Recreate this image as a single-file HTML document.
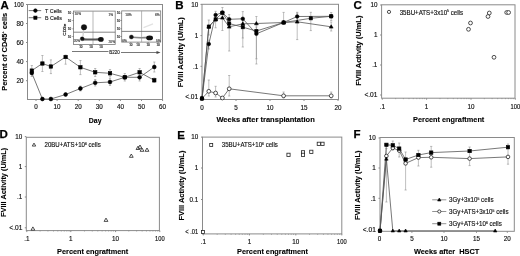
<!DOCTYPE html>
<html><head><meta charset="utf-8"><style>
html,body{margin:0;padding:0;background:#fff;}
svg{display:block;will-change:transform;}
text{font-family:"Liberation Sans", sans-serif;}
</style></head><body>
<svg width="520" height="256" viewBox="0 0 520 256">
<rect width="520" height="256" fill="#fff"/>
<text x="0.6" y="9.0" font-size="11.5" font-weight="bold" text-anchor="start" fill="#000" stroke="#000" stroke-width="0.25">A</text>
<rect x="27.5" y="4.5" width="135.0" height="95.0" fill="none" stroke="#8a8a8a" stroke-width="1.0"/>
<text x="23.6" y="6.768" font-size="6.3" font-weight="normal" text-anchor="end" fill="#111" textLength="9.6" lengthAdjust="spacingAndGlyphs" stroke="#111" stroke-width="0.15">100</text>
<line x1="26" y1="4.5" x2="27.5" y2="4.5" stroke="#8a8a8a" stroke-width="1.0" />
<text x="23.6" y="25.768" font-size="6.3" font-weight="normal" text-anchor="end" fill="#111" stroke="#111" stroke-width="0.15">80</text>
<line x1="26" y1="23.5" x2="27.5" y2="23.5" stroke="#8a8a8a" stroke-width="1.0" />
<text x="23.6" y="44.768" font-size="6.3" font-weight="normal" text-anchor="end" fill="#111" stroke="#111" stroke-width="0.15">60</text>
<line x1="26" y1="42.5" x2="27.5" y2="42.5" stroke="#8a8a8a" stroke-width="1.0" />
<text x="23.6" y="63.868" font-size="6.3" font-weight="normal" text-anchor="end" fill="#111" stroke="#111" stroke-width="0.15">40</text>
<line x1="26" y1="61.6" x2="27.5" y2="61.6" stroke="#8a8a8a" stroke-width="1.0" />
<text x="23.6" y="82.968" font-size="6.3" font-weight="normal" text-anchor="end" fill="#111" stroke="#111" stroke-width="0.15">20</text>
<line x1="26" y1="80.7" x2="27.5" y2="80.7" stroke="#8a8a8a" stroke-width="1.0" />
<text x="36.0" y="109.268" font-size="6.3" font-weight="normal" text-anchor="middle" fill="#111" stroke="#111" stroke-width="0.15">0</text>
<line x1="36.0" y1="99.5" x2="36.0" y2="101" stroke="#8a8a8a" stroke-width="1.0" />
<text x="57.099999999999994" y="109.268" font-size="6.3" font-weight="normal" text-anchor="middle" fill="#111" stroke="#111" stroke-width="0.15">10</text>
<line x1="57.099999999999994" y1="99.5" x2="57.099999999999994" y2="101" stroke="#8a8a8a" stroke-width="1.0" />
<text x="78.19999999999999" y="109.268" font-size="6.3" font-weight="normal" text-anchor="middle" fill="#111" stroke="#111" stroke-width="0.15">20</text>
<line x1="78.19999999999999" y1="99.5" x2="78.19999999999999" y2="101" stroke="#8a8a8a" stroke-width="1.0" />
<text x="99.3" y="109.268" font-size="6.3" font-weight="normal" text-anchor="middle" fill="#111" stroke="#111" stroke-width="0.15">30</text>
<line x1="99.3" y1="99.5" x2="99.3" y2="101" stroke="#8a8a8a" stroke-width="1.0" />
<text x="120.39999999999999" y="109.268" font-size="6.3" font-weight="normal" text-anchor="middle" fill="#111" stroke="#111" stroke-width="0.15">40</text>
<line x1="120.39999999999999" y1="99.5" x2="120.39999999999999" y2="101" stroke="#8a8a8a" stroke-width="1.0" />
<text x="141.5" y="109.268" font-size="6.3" font-weight="normal" text-anchor="middle" fill="#111" stroke="#111" stroke-width="0.15">50</text>
<line x1="141.5" y1="99.5" x2="141.5" y2="101" stroke="#8a8a8a" stroke-width="1.0" />
<text x="162.6" y="109.268" font-size="6.3" font-weight="normal" text-anchor="middle" fill="#111" stroke="#111" stroke-width="0.15">60</text>
<line x1="162.6" y1="99.5" x2="162.6" y2="101" stroke="#8a8a8a" stroke-width="1.0" />
<text x="7.4639999999999995" y="51.8" font-size="8.0" font-weight="bold" text-anchor="middle" fill="#000" textLength="78.0" lengthAdjust="spacingAndGlyphs" transform="rotate(-90 7.4639999999999995 51.8)" stroke="#000" stroke-width="0.12">Percent of CD45<tspan font-size="4" dy="-3.2">+</tspan><tspan dy="3.2"> cells</tspan></text>
<text x="95.15" y="123" font-size="8.0" font-weight="bold" text-anchor="middle" fill="#000" textLength="12.7" lengthAdjust="spacingAndGlyphs" stroke="#000" stroke-width="0.12">Day</text>
<line x1="28.7" y1="10.6" x2="41.2" y2="10.6" stroke="#555" stroke-width="0.8" />
<circle cx="35.4" cy="10.6" r="1.8" fill="#000" stroke="#000" stroke-width="0.6"/>
<line x1="28.7" y1="17.7" x2="41.2" y2="17.7" stroke="#555" stroke-width="0.8" />
<rect x="33.8" y="16.099999999999998" width="3.2" height="3.2" fill="#000" stroke="#000" stroke-width="0.6"/>
<text x="45.1" y="12.6" font-size="5.6" font-weight="normal" text-anchor="start" fill="#222" textLength="16.6" lengthAdjust="spacingAndGlyphs" stroke="#222" stroke-width="0.15">T Cells</text>
<text x="45.1" y="19.7" font-size="5.6" font-weight="normal" text-anchor="start" fill="#222" textLength="16.8" lengthAdjust="spacingAndGlyphs" stroke="#222" stroke-width="0.15">B Cells</text>
<line x1="31.8" y1="65.5" x2="31.8" y2="76.5" stroke="#8a8a8a" stroke-width="0.55" />
<line x1="30.7" y1="65.5" x2="32.9" y2="65.5" stroke="#8a8a8a" stroke-width="0.55" />
<line x1="30.7" y1="76.5" x2="32.9" y2="76.5" stroke="#8a8a8a" stroke-width="0.55" />
<line x1="42.4" y1="55.5" x2="42.4" y2="71.5" stroke="#8a8a8a" stroke-width="0.55" />
<line x1="41.3" y1="55.5" x2="43.5" y2="55.5" stroke="#8a8a8a" stroke-width="0.55" />
<line x1="41.3" y1="71.5" x2="43.5" y2="71.5" stroke="#8a8a8a" stroke-width="0.55" />
<line x1="50.9" y1="59.9" x2="50.9" y2="73.6" stroke="#8a8a8a" stroke-width="0.55" />
<line x1="49.8" y1="59.9" x2="52.0" y2="59.9" stroke="#8a8a8a" stroke-width="0.55" />
<line x1="49.8" y1="73.6" x2="52.0" y2="73.6" stroke="#8a8a8a" stroke-width="0.55" />
<line x1="65.6" y1="55.0" x2="65.6" y2="64.2" stroke="#8a8a8a" stroke-width="0.55" />
<line x1="64.5" y1="55.0" x2="66.69999999999999" y2="55.0" stroke="#8a8a8a" stroke-width="0.55" />
<line x1="64.5" y1="64.2" x2="66.69999999999999" y2="64.2" stroke="#8a8a8a" stroke-width="0.55" />
<line x1="80.4" y1="60.5" x2="80.4" y2="74.6" stroke="#8a8a8a" stroke-width="0.55" />
<line x1="79.30000000000001" y1="60.5" x2="81.5" y2="60.5" stroke="#8a8a8a" stroke-width="0.55" />
<line x1="79.30000000000001" y1="74.6" x2="81.5" y2="74.6" stroke="#8a8a8a" stroke-width="0.55" />
<line x1="95.2" y1="68.5" x2="95.2" y2="76.5" stroke="#8a8a8a" stroke-width="0.55" />
<line x1="94.10000000000001" y1="68.5" x2="96.3" y2="68.5" stroke="#8a8a8a" stroke-width="0.55" />
<line x1="94.10000000000001" y1="76.5" x2="96.3" y2="76.5" stroke="#8a8a8a" stroke-width="0.55" />
<line x1="110" y1="69.5" x2="110" y2="77" stroke="#8a8a8a" stroke-width="0.55" />
<line x1="108.9" y1="69.5" x2="111.1" y2="69.5" stroke="#8a8a8a" stroke-width="0.55" />
<line x1="108.9" y1="77" x2="111.1" y2="77" stroke="#8a8a8a" stroke-width="0.55" />
<line x1="124.8" y1="73.5" x2="124.8" y2="81" stroke="#8a8a8a" stroke-width="0.55" />
<line x1="123.7" y1="73.5" x2="125.89999999999999" y2="73.5" stroke="#8a8a8a" stroke-width="0.55" />
<line x1="123.7" y1="81" x2="125.89999999999999" y2="81" stroke="#8a8a8a" stroke-width="0.55" />
<line x1="139.6" y1="68.5" x2="139.6" y2="76.5" stroke="#8a8a8a" stroke-width="0.55" />
<line x1="138.5" y1="68.5" x2="140.7" y2="68.5" stroke="#8a8a8a" stroke-width="0.55" />
<line x1="138.5" y1="76.5" x2="140.7" y2="76.5" stroke="#8a8a8a" stroke-width="0.55" />
<line x1="154.3" y1="78" x2="154.3" y2="82.5" stroke="#8a8a8a" stroke-width="0.55" />
<line x1="153.20000000000002" y1="78" x2="155.4" y2="78" stroke="#8a8a8a" stroke-width="0.55" />
<line x1="153.20000000000002" y1="82.5" x2="155.4" y2="82.5" stroke="#8a8a8a" stroke-width="0.55" />
<line x1="95.2" y1="79.5" x2="95.2" y2="86" stroke="#8a8a8a" stroke-width="0.55" />
<line x1="94.10000000000001" y1="79.5" x2="96.3" y2="79.5" stroke="#8a8a8a" stroke-width="0.55" />
<line x1="94.10000000000001" y1="86" x2="96.3" y2="86" stroke="#8a8a8a" stroke-width="0.55" />
<line x1="110" y1="78.5" x2="110" y2="85.5" stroke="#8a8a8a" stroke-width="0.55" />
<line x1="108.9" y1="78.5" x2="111.1" y2="78.5" stroke="#8a8a8a" stroke-width="0.55" />
<line x1="108.9" y1="85.5" x2="111.1" y2="85.5" stroke="#8a8a8a" stroke-width="0.55" />
<line x1="139.6" y1="73.8" x2="139.6" y2="81" stroke="#8a8a8a" stroke-width="0.55" />
<line x1="138.5" y1="73.8" x2="140.7" y2="73.8" stroke="#8a8a8a" stroke-width="0.55" />
<line x1="138.5" y1="81" x2="140.7" y2="81" stroke="#8a8a8a" stroke-width="0.55" />
<line x1="154.3" y1="62" x2="154.3" y2="72" stroke="#8a8a8a" stroke-width="0.55" />
<line x1="153.20000000000002" y1="62" x2="155.4" y2="62" stroke="#8a8a8a" stroke-width="0.55" />
<line x1="153.20000000000002" y1="72" x2="155.4" y2="72" stroke="#8a8a8a" stroke-width="0.55" />
<line x1="80.4" y1="86" x2="80.4" y2="91" stroke="#8a8a8a" stroke-width="0.55" />
<line x1="79.30000000000001" y1="86" x2="81.5" y2="86" stroke="#8a8a8a" stroke-width="0.55" />
<line x1="79.30000000000001" y1="91" x2="81.5" y2="91" stroke="#8a8a8a" stroke-width="0.55" />
<polyline points="31.8,70.6 42.4,63.5 50.9,66.5 65.6,57 80.4,67.3 95.2,72.3 110,73.3 124.8,77.3 139.6,72.3 154.3,80.3" fill="none" stroke="#555" stroke-width="0.8"/>
<polyline points="31.8,73 42.4,99 50.9,99 65.6,94.5 80.4,88.5 95.2,82.8 110,82 124.8,77.3 139.6,77.3 154.3,67" fill="none" stroke="#555" stroke-width="0.8"/>
<rect x="30.1" y="68.89999999999999" width="3.4" height="3.4" fill="#000" stroke="#000" stroke-width="0.6"/>
<rect x="40.699999999999996" y="61.8" width="3.4" height="3.4" fill="#000" stroke="#000" stroke-width="0.6"/>
<rect x="49.199999999999996" y="64.8" width="3.4" height="3.4" fill="#000" stroke="#000" stroke-width="0.6"/>
<rect x="63.89999999999999" y="55.3" width="3.4" height="3.4" fill="#000" stroke="#000" stroke-width="0.6"/>
<rect x="78.7" y="65.6" width="3.4" height="3.4" fill="#000" stroke="#000" stroke-width="0.6"/>
<rect x="93.5" y="70.6" width="3.4" height="3.4" fill="#000" stroke="#000" stroke-width="0.6"/>
<rect x="108.3" y="71.6" width="3.4" height="3.4" fill="#000" stroke="#000" stroke-width="0.6"/>
<rect x="123.1" y="75.6" width="3.4" height="3.4" fill="#000" stroke="#000" stroke-width="0.6"/>
<rect x="137.9" y="70.6" width="3.4" height="3.4" fill="#000" stroke="#000" stroke-width="0.6"/>
<rect x="152.60000000000002" y="78.6" width="3.4" height="3.4" fill="#000" stroke="#000" stroke-width="0.6"/>
<circle cx="31.8" cy="73" r="1.9" fill="#000" stroke="#000" stroke-width="0.6"/>
<circle cx="42.4" cy="99" r="1.9" fill="#000" stroke="#000" stroke-width="0.6"/>
<circle cx="50.9" cy="99" r="1.9" fill="#000" stroke="#000" stroke-width="0.6"/>
<circle cx="65.6" cy="94.5" r="1.9" fill="#000" stroke="#000" stroke-width="0.6"/>
<circle cx="80.4" cy="88.5" r="1.9" fill="#000" stroke="#000" stroke-width="0.6"/>
<circle cx="95.2" cy="82.8" r="1.9" fill="#000" stroke="#000" stroke-width="0.6"/>
<circle cx="110" cy="82" r="1.9" fill="#000" stroke="#000" stroke-width="0.6"/>
<circle cx="124.8" cy="77.3" r="1.9" fill="#000" stroke="#000" stroke-width="0.6"/>
<circle cx="139.6" cy="77.3" r="1.9" fill="#000" stroke="#000" stroke-width="0.6"/>
<circle cx="154.3" cy="67" r="1.9" fill="#000" stroke="#000" stroke-width="0.6"/>
<rect x="73.5" y="11.1" width="41.7" height="33.3" fill="none" stroke="#777" stroke-width="0.8"/>
<line x1="93" y1="11.1" x2="93" y2="44.4" stroke="#999" stroke-width="0.7" />
<line x1="73.5" y1="32.2" x2="115.2" y2="32.2" stroke="#666" stroke-width="0.8" />
<text x="77.8" y="15.2" font-size="3.2" font-weight="normal" text-anchor="middle" fill="#444" stroke="#444" stroke-width="0.15">10%</text>
<text x="110.8" y="15.7" font-size="3.2" font-weight="normal" text-anchor="middle" fill="#444" stroke="#444" stroke-width="0.15">1%</text>
<text x="77" y="42.1" font-size="3.2" font-weight="normal" text-anchor="middle" fill="#444" stroke="#444" stroke-width="0.15">20%</text>
<text x="111.8" y="42.7" font-size="3.2" font-weight="normal" text-anchor="middle" fill="#444" stroke="#444" stroke-width="0.15">20%</text>
<text x="69.5" y="14.3" font-size="3.0" font-weight="normal" text-anchor="middle" fill="#222" stroke="#222" stroke-width="0.15">10</text>
<line x1="72.3" y1="13.3" x2="73.5" y2="13.3" stroke="#555" stroke-width="0.6" />
<text x="69.5" y="21.5" font-size="3.0" font-weight="normal" text-anchor="middle" fill="#222" stroke="#222" stroke-width="0.15">10</text>
<line x1="72.3" y1="20.5" x2="73.5" y2="20.5" stroke="#555" stroke-width="0.6" />
<text x="69.5" y="29.8" font-size="3.0" font-weight="normal" text-anchor="middle" fill="#222" stroke="#222" stroke-width="0.15">10</text>
<line x1="72.3" y1="28.8" x2="73.5" y2="28.8" stroke="#555" stroke-width="0.6" />
<text x="69.5" y="37.5" font-size="3.0" font-weight="normal" text-anchor="middle" fill="#222" stroke="#222" stroke-width="0.15">10</text>
<line x1="72.3" y1="36.5" x2="73.5" y2="36.5" stroke="#555" stroke-width="0.6" />
<text x="80.8" y="47.8" font-size="3.0" font-weight="normal" text-anchor="middle" fill="#222" stroke="#222" stroke-width="0.15">10</text>
<line x1="80.8" y1="44.4" x2="80.8" y2="45.4" stroke="#555" stroke-width="0.6" />
<text x="91" y="47.8" font-size="3.0" font-weight="normal" text-anchor="middle" fill="#222" stroke="#222" stroke-width="0.15">10</text>
<line x1="91" y1="44.4" x2="91" y2="45.4" stroke="#555" stroke-width="0.6" />
<text x="101" y="47.8" font-size="3.0" font-weight="normal" text-anchor="middle" fill="#222" stroke="#222" stroke-width="0.15">10</text>
<line x1="101" y1="44.4" x2="101" y2="45.4" stroke="#555" stroke-width="0.6" />
<rect x="121.7" y="10.9" width="38.999999999999986" height="31.200000000000003" fill="none" stroke="#777" stroke-width="0.8"/>
<line x1="141.6" y1="10.9" x2="141.6" y2="42.1" stroke="#999" stroke-width="0.7" />
<line x1="121.7" y1="31.4" x2="160.7" y2="31.4" stroke="#666" stroke-width="0.8" />
<text x="128.5" y="15.6" font-size="3.2" font-weight="normal" text-anchor="middle" fill="#444" stroke="#444" stroke-width="0.15">10%</text>
<text x="157.4" y="15.5" font-size="3.2" font-weight="normal" text-anchor="middle" fill="#444" stroke="#444" stroke-width="0.15">6%</text>
<text x="124.6" y="41.7" font-size="3.2" font-weight="normal" text-anchor="middle" fill="#444" stroke="#444" stroke-width="0.15">6%</text>
<text x="158.2" y="41.7" font-size="3.2" font-weight="normal" text-anchor="middle" fill="#444" stroke="#444" stroke-width="0.15">5%</text>
<text x="118.5" y="14.3" font-size="3.0" font-weight="normal" text-anchor="middle" fill="#222" stroke="#222" stroke-width="0.15">10</text>
<line x1="120.5" y1="13.3" x2="121.7" y2="13.3" stroke="#555" stroke-width="0.6" />
<text x="118.5" y="21.5" font-size="3.0" font-weight="normal" text-anchor="middle" fill="#222" stroke="#222" stroke-width="0.15">10</text>
<line x1="120.5" y1="20.5" x2="121.7" y2="20.5" stroke="#555" stroke-width="0.6" />
<text x="118.5" y="29.8" font-size="3.0" font-weight="normal" text-anchor="middle" fill="#222" stroke="#222" stroke-width="0.15">10</text>
<line x1="120.5" y1="28.8" x2="121.7" y2="28.8" stroke="#555" stroke-width="0.6" />
<text x="118.5" y="37.5" font-size="3.0" font-weight="normal" text-anchor="middle" fill="#222" stroke="#222" stroke-width="0.15">10</text>
<line x1="120.5" y1="36.5" x2="121.7" y2="36.5" stroke="#555" stroke-width="0.6" />
<text x="130.8" y="45.5" font-size="3.0" font-weight="normal" text-anchor="middle" fill="#222" stroke="#222" stroke-width="0.15">10</text>
<line x1="130.8" y1="42.1" x2="130.8" y2="43.1" stroke="#555" stroke-width="0.6" />
<text x="137.9" y="45.5" font-size="3.0" font-weight="normal" text-anchor="middle" fill="#222" stroke="#222" stroke-width="0.15">10</text>
<line x1="137.9" y1="42.1" x2="137.9" y2="43.1" stroke="#555" stroke-width="0.6" />
<text x="148.1" y="45.5" font-size="3.0" font-weight="normal" text-anchor="middle" fill="#222" stroke="#222" stroke-width="0.15">10</text>
<line x1="148.1" y1="42.1" x2="148.1" y2="43.1" stroke="#555" stroke-width="0.6" />
<text x="158.1" y="45.5" font-size="3.0" font-weight="normal" text-anchor="middle" fill="#222" stroke="#222" stroke-width="0.15">10</text>
<line x1="158.1" y1="42.1" x2="158.1" y2="43.1" stroke="#555" stroke-width="0.6" />
<line x1="83.5" y1="29" x2="83" y2="36.5" stroke="#ccc" stroke-width="1.2" />
<path d="M83,38.2 C88,38.6 94,38.6 99,38.3 L99,40.6 C94,40.5 88,40.6 83,40.4 Z" fill="#555"/>
<path d="M132,36.6 C137,36.9 142,37.0 147,36.8 L147,38.6 C142,38.5 137,38.4 132,38.0 Z" fill="#888"/>
<circle cx="84" cy="27.2" r="2.8" fill="#111" stroke="#111" stroke-width="0.3"/>
<circle cx="82.2" cy="38.8" r="2.0" fill="#111" stroke="#111" stroke-width="0.3"/>
<ellipse cx="100.9" cy="39.4" rx="2.8" ry="2.4" fill="#111"/>
<circle cx="131.4" cy="37" r="2.1" fill="#111" stroke="#111" stroke-width="0.3"/>
<ellipse cx="149.6" cy="37.9" rx="3.4" ry="2.4" fill="#111"/>
<line x1="143.5" y1="27.6" x2="153" y2="23.9" stroke="#e2e2e2" stroke-width="1.2" />
<text x="66.0" y="29.7" font-size="4.2" font-weight="normal" text-anchor="middle" fill="#222" textLength="12.0" lengthAdjust="spacingAndGlyphs" transform="rotate(-90 66.0 29.7)" stroke="#222" stroke-width="0.2">CD3e</text>
<line x1="72" y1="51.5" x2="108.5" y2="51.5" stroke="#555" stroke-width="0.8" />
<line x1="121" y1="52.5" x2="158" y2="52.5" stroke="#555" stroke-width="0.8" />
<polygon points="160.5,52.5 156.5,51 156.5,54" fill="#444"/>
<text x="114.5" y="54.2" font-size="5.0" font-weight="normal" text-anchor="middle" fill="#222" textLength="10.5" lengthAdjust="spacingAndGlyphs" stroke="#222" stroke-width="0.15">B220</text>
<text x="175.3" y="9.2" font-size="11.5" font-weight="bold" text-anchor="start" fill="#000" stroke="#000" stroke-width="0.25">B</text>
<rect x="202" y="4.3" width="136.5" height="95.2" fill="none" stroke="#8a8a8a" stroke-width="1.0"/>
<text x="198.2" y="6.668" font-size="6.3" font-weight="normal" text-anchor="end" fill="#111" stroke="#111" stroke-width="0.15">10</text>
<line x1="200.5" y1="4.4" x2="202" y2="4.4" stroke="#8a8a8a" stroke-width="1.0" />
<text x="198.2" y="37.868" font-size="6.3" font-weight="normal" text-anchor="end" fill="#111" stroke="#111" stroke-width="0.15">1</text>
<line x1="200.5" y1="35.6" x2="202" y2="35.6" stroke="#8a8a8a" stroke-width="1.0" />
<text x="198.2" y="68.568" font-size="6.3" font-weight="normal" text-anchor="end" fill="#111" stroke="#111" stroke-width="0.15">.1</text>
<line x1="200.5" y1="66.3" x2="202" y2="66.3" stroke="#8a8a8a" stroke-width="1.0" />
<text x="198.2" y="98.968" font-size="6.3" font-weight="normal" text-anchor="end" fill="#111" textLength="13.0" lengthAdjust="spacingAndGlyphs" stroke="#111" stroke-width="0.15">&lt;.01</text>
<line x1="200.5" y1="96.7" x2="202" y2="96.7" stroke="#8a8a8a" stroke-width="1.0" />
<text x="202.0" y="109.668" font-size="6.3" font-weight="normal" text-anchor="middle" fill="#111" stroke="#111" stroke-width="0.15">0</text>
<line x1="202.0" y1="99.5" x2="202.0" y2="101" stroke="#8a8a8a" stroke-width="1.0" />
<text x="236.0" y="109.668" font-size="6.3" font-weight="normal" text-anchor="middle" fill="#111" stroke="#111" stroke-width="0.15">5</text>
<line x1="236.0" y1="99.5" x2="236.0" y2="101" stroke="#8a8a8a" stroke-width="1.0" />
<text x="270.0" y="109.668" font-size="6.3" font-weight="normal" text-anchor="middle" fill="#111" stroke="#111" stroke-width="0.15">10</text>
<line x1="270.0" y1="99.5" x2="270.0" y2="101" stroke="#8a8a8a" stroke-width="1.0" />
<text x="304.0" y="109.668" font-size="6.3" font-weight="normal" text-anchor="middle" fill="#111" stroke="#111" stroke-width="0.15">15</text>
<line x1="304.0" y1="99.5" x2="304.0" y2="101" stroke="#8a8a8a" stroke-width="1.0" />
<text x="338.0" y="109.668" font-size="6.3" font-weight="normal" text-anchor="middle" fill="#111" stroke="#111" stroke-width="0.15">20</text>
<line x1="338.0" y1="99.5" x2="338.0" y2="101" stroke="#8a8a8a" stroke-width="1.0" />
<text x="183.16400000000002" y="52.2" font-size="8.0" font-weight="bold" text-anchor="middle" fill="#000" textLength="70.0" lengthAdjust="spacingAndGlyphs" transform="rotate(-90 183.16400000000002 52.2)" stroke="#000" stroke-width="0.12">FVIII Activity (U/mL)</text>
<text x="265.6" y="122.3" font-size="8.0" font-weight="bold" text-anchor="middle" fill="#000" textLength="98.4" lengthAdjust="spacingAndGlyphs" stroke="#000" stroke-width="0.12">Weeks after transplantation</text>
<line x1="208.8" y1="20" x2="208.8" y2="35" stroke="#8a8a8a" stroke-width="0.55" />
<line x1="207.70000000000002" y1="20" x2="209.9" y2="20" stroke="#8a8a8a" stroke-width="0.55" />
<line x1="207.70000000000002" y1="35" x2="209.9" y2="35" stroke="#8a8a8a" stroke-width="0.55" />
<line x1="208.8" y1="40" x2="208.8" y2="49" stroke="#8a8a8a" stroke-width="0.55" />
<line x1="207.70000000000002" y1="40" x2="209.9" y2="40" stroke="#8a8a8a" stroke-width="0.55" />
<line x1="207.70000000000002" y1="49" x2="209.9" y2="49" stroke="#8a8a8a" stroke-width="0.55" />
<line x1="215.6" y1="11.3" x2="215.6" y2="15" stroke="#8a8a8a" stroke-width="0.55" />
<line x1="214.5" y1="11.3" x2="216.7" y2="11.3" stroke="#8a8a8a" stroke-width="0.55" />
<line x1="214.5" y1="15" x2="216.7" y2="15" stroke="#8a8a8a" stroke-width="0.55" />
<line x1="215.6" y1="21.5" x2="215.6" y2="27.8" stroke="#8a8a8a" stroke-width="0.55" />
<line x1="214.5" y1="21.5" x2="216.7" y2="21.5" stroke="#8a8a8a" stroke-width="0.55" />
<line x1="214.5" y1="27.8" x2="216.7" y2="27.8" stroke="#8a8a8a" stroke-width="0.55" />
<line x1="222.4" y1="7.5" x2="222.4" y2="30.5" stroke="#8a8a8a" stroke-width="0.55" />
<line x1="221.3" y1="7.5" x2="223.5" y2="7.5" stroke="#8a8a8a" stroke-width="0.55" />
<line x1="221.3" y1="30.5" x2="223.5" y2="30.5" stroke="#8a8a8a" stroke-width="0.55" />
<line x1="229.2" y1="14.6" x2="229.2" y2="51" stroke="#8a8a8a" stroke-width="0.55" />
<line x1="228.1" y1="14.6" x2="230.29999999999998" y2="14.6" stroke="#8a8a8a" stroke-width="0.55" />
<line x1="228.1" y1="51" x2="230.29999999999998" y2="51" stroke="#8a8a8a" stroke-width="0.55" />
<line x1="242.8" y1="11.6" x2="242.8" y2="47" stroke="#8a8a8a" stroke-width="0.55" />
<line x1="241.70000000000002" y1="11.6" x2="243.9" y2="11.6" stroke="#8a8a8a" stroke-width="0.55" />
<line x1="241.70000000000002" y1="47" x2="243.9" y2="47" stroke="#8a8a8a" stroke-width="0.55" />
<line x1="256.4" y1="16.5" x2="256.4" y2="64" stroke="#8a8a8a" stroke-width="0.55" />
<line x1="255.29999999999998" y1="16.5" x2="257.5" y2="16.5" stroke="#8a8a8a" stroke-width="0.55" />
<line x1="255.29999999999998" y1="64" x2="257.5" y2="64" stroke="#8a8a8a" stroke-width="0.55" />
<line x1="256.4" y1="27" x2="256.4" y2="58.8" stroke="#8a8a8a" stroke-width="0.55" />
<line x1="255.29999999999998" y1="27" x2="257.5" y2="27" stroke="#8a8a8a" stroke-width="0.55" />
<line x1="255.29999999999998" y1="58.8" x2="257.5" y2="58.8" stroke="#8a8a8a" stroke-width="0.55" />
<line x1="283.6" y1="12.4" x2="283.6" y2="23" stroke="#8a8a8a" stroke-width="0.55" />
<line x1="282.5" y1="12.4" x2="284.70000000000005" y2="12.4" stroke="#8a8a8a" stroke-width="0.55" />
<line x1="282.5" y1="23" x2="284.70000000000005" y2="23" stroke="#8a8a8a" stroke-width="0.55" />
<line x1="297.2" y1="12.3" x2="297.2" y2="39.6" stroke="#8a8a8a" stroke-width="0.55" />
<line x1="296.09999999999997" y1="12.3" x2="298.3" y2="12.3" stroke="#8a8a8a" stroke-width="0.55" />
<line x1="296.09999999999997" y1="39.6" x2="298.3" y2="39.6" stroke="#8a8a8a" stroke-width="0.55" />
<line x1="297.2" y1="13" x2="297.2" y2="22" stroke="#8a8a8a" stroke-width="0.55" />
<line x1="296.09999999999997" y1="13" x2="298.3" y2="13" stroke="#8a8a8a" stroke-width="0.55" />
<line x1="296.09999999999997" y1="22" x2="298.3" y2="22" stroke="#8a8a8a" stroke-width="0.55" />
<line x1="310.8" y1="12.3" x2="310.8" y2="30.6" stroke="#8a8a8a" stroke-width="0.55" />
<line x1="309.7" y1="12.3" x2="311.90000000000003" y2="12.3" stroke="#8a8a8a" stroke-width="0.55" />
<line x1="309.7" y1="30.6" x2="311.90000000000003" y2="30.6" stroke="#8a8a8a" stroke-width="0.55" />
<line x1="242.8" y1="20" x2="242.8" y2="38" stroke="#8a8a8a" stroke-width="0.55" />
<line x1="241.70000000000002" y1="20" x2="243.9" y2="20" stroke="#8a8a8a" stroke-width="0.55" />
<line x1="241.70000000000002" y1="38" x2="243.9" y2="38" stroke="#8a8a8a" stroke-width="0.55" />
<line x1="331.2" y1="12.5" x2="331.2" y2="20.5" stroke="#8a8a8a" stroke-width="0.55" />
<line x1="330.09999999999997" y1="12.5" x2="332.3" y2="12.5" stroke="#8a8a8a" stroke-width="0.55" />
<line x1="330.09999999999997" y1="20.5" x2="332.3" y2="20.5" stroke="#8a8a8a" stroke-width="0.55" />
<line x1="331.2" y1="22" x2="331.2" y2="31" stroke="#8a8a8a" stroke-width="0.55" />
<line x1="330.09999999999997" y1="22" x2="332.3" y2="22" stroke="#8a8a8a" stroke-width="0.55" />
<line x1="330.09999999999997" y1="31" x2="332.3" y2="31" stroke="#8a8a8a" stroke-width="0.55" />
<line x1="208.8" y1="80" x2="208.8" y2="96" stroke="#8a8a8a" stroke-width="0.55" />
<line x1="207.70000000000002" y1="80" x2="209.9" y2="80" stroke="#8a8a8a" stroke-width="0.55" />
<line x1="207.70000000000002" y1="96" x2="209.9" y2="96" stroke="#8a8a8a" stroke-width="0.55" />
<line x1="215.6" y1="86.3" x2="215.6" y2="97" stroke="#8a8a8a" stroke-width="0.55" />
<line x1="214.5" y1="86.3" x2="216.7" y2="86.3" stroke="#8a8a8a" stroke-width="0.55" />
<line x1="214.5" y1="97" x2="216.7" y2="97" stroke="#8a8a8a" stroke-width="0.55" />
<line x1="229.2" y1="75.5" x2="229.2" y2="96" stroke="#8a8a8a" stroke-width="0.55" />
<line x1="228.1" y1="75.5" x2="230.29999999999998" y2="75.5" stroke="#8a8a8a" stroke-width="0.55" />
<line x1="228.1" y1="96" x2="230.29999999999998" y2="96" stroke="#8a8a8a" stroke-width="0.55" />
<line x1="283.6" y1="92" x2="283.6" y2="98" stroke="#8a8a8a" stroke-width="0.55" />
<line x1="282.5" y1="92" x2="284.70000000000005" y2="92" stroke="#8a8a8a" stroke-width="0.55" />
<line x1="282.5" y1="98" x2="284.70000000000005" y2="98" stroke="#8a8a8a" stroke-width="0.55" />
<line x1="331.2" y1="92" x2="331.2" y2="98" stroke="#8a8a8a" stroke-width="0.55" />
<line x1="330.09999999999997" y1="92" x2="332.3" y2="92" stroke="#8a8a8a" stroke-width="0.55" />
<line x1="330.09999999999997" y1="98" x2="332.3" y2="98" stroke="#8a8a8a" stroke-width="0.55" />
<polyline points="202.0,98.5 208.8,26.6 215.6,19.4 222.4,12.8 229.2,23.5 242.8,27.2 256.4,31 283.6,22.5 310.8,18.3 331.2,16.3" fill="none" stroke="#555" stroke-width="0.8"/>
<polyline points="202.0,98.5 208.8,44 215.6,15 222.4,12.5 229.2,19.3 242.8,18.8 256.4,33.8 283.6,22.5 297.2,16.5 331.2,16.3" fill="none" stroke="#555" stroke-width="0.8"/>
<polyline points="202.0,98.5 208.8,26.8 215.6,19.3 222.4,17.8 229.2,26.8 242.8,23.8 256.4,23.5 283.6,22.5 297.2,21.8 331.2,26.8" fill="none" stroke="#555" stroke-width="0.8"/>
<polyline points="202.0,98.5 208.8,91.3 215.6,93 222.4,98 229.2,88.8 283.6,95.8 331.2,95.8" fill="none" stroke="#555" stroke-width="0.8"/>
<polygon points="202.0,96.5 203.9,99.8 200.1,99.8" fill="#000" stroke="#000" stroke-width="0.6"/>
<polygon points="208.8,24.8 210.70000000000002,28.1 206.9,28.1" fill="#000" stroke="#000" stroke-width="0.6"/>
<polygon points="215.6,17.3 217.5,20.6 213.7,20.6" fill="#000" stroke="#000" stroke-width="0.6"/>
<polygon points="222.4,15.8 224.3,19.1 220.5,19.1" fill="#000" stroke="#000" stroke-width="0.6"/>
<polygon points="229.2,24.8 231.1,28.1 227.29999999999998,28.1" fill="#000" stroke="#000" stroke-width="0.6"/>
<polygon points="242.8,21.8 244.70000000000002,25.1 240.9,25.1" fill="#000" stroke="#000" stroke-width="0.6"/>
<polygon points="256.4,21.5 258.29999999999995,24.8 254.49999999999997,24.8" fill="#000" stroke="#000" stroke-width="0.6"/>
<polygon points="283.6,20.5 285.5,23.8 281.70000000000005,23.8" fill="#000" stroke="#000" stroke-width="0.6"/>
<polygon points="297.2,19.8 299.09999999999997,23.1 295.3,23.1" fill="#000" stroke="#000" stroke-width="0.6"/>
<polygon points="331.2,24.8 333.09999999999997,28.1 329.3,28.1" fill="#000" stroke="#000" stroke-width="0.6"/>
<rect x="200.4" y="96.9" width="3.2" height="3.2" fill="#000" stroke="#000" stroke-width="0.6"/>
<rect x="207.20000000000002" y="25.0" width="3.2" height="3.2" fill="#000" stroke="#000" stroke-width="0.6"/>
<rect x="214.0" y="17.799999999999997" width="3.2" height="3.2" fill="#000" stroke="#000" stroke-width="0.6"/>
<rect x="220.8" y="11.200000000000001" width="3.2" height="3.2" fill="#000" stroke="#000" stroke-width="0.6"/>
<rect x="227.6" y="21.9" width="3.2" height="3.2" fill="#000" stroke="#000" stroke-width="0.6"/>
<rect x="241.20000000000002" y="25.599999999999998" width="3.2" height="3.2" fill="#000" stroke="#000" stroke-width="0.6"/>
<rect x="254.79999999999998" y="29.4" width="3.2" height="3.2" fill="#000" stroke="#000" stroke-width="0.6"/>
<rect x="282.0" y="20.9" width="3.2" height="3.2" fill="#000" stroke="#000" stroke-width="0.6"/>
<rect x="309.2" y="16.7" width="3.2" height="3.2" fill="#000" stroke="#000" stroke-width="0.6"/>
<rect x="329.59999999999997" y="14.700000000000001" width="3.2" height="3.2" fill="#000" stroke="#000" stroke-width="0.6"/>
<circle cx="202.0" cy="98.5" r="1.8" fill="#000" stroke="#000" stroke-width="0.6"/>
<circle cx="208.8" cy="44" r="1.8" fill="#000" stroke="#000" stroke-width="0.6"/>
<circle cx="215.6" cy="15" r="1.8" fill="#000" stroke="#000" stroke-width="0.6"/>
<circle cx="222.4" cy="12.5" r="1.8" fill="#000" stroke="#000" stroke-width="0.6"/>
<circle cx="229.2" cy="19.3" r="1.8" fill="#000" stroke="#000" stroke-width="0.6"/>
<circle cx="242.8" cy="18.8" r="1.8" fill="#000" stroke="#000" stroke-width="0.6"/>
<circle cx="256.4" cy="33.8" r="1.8" fill="#000" stroke="#000" stroke-width="0.6"/>
<circle cx="283.6" cy="22.5" r="1.8" fill="#000" stroke="#000" stroke-width="0.6"/>
<circle cx="297.2" cy="16.5" r="1.8" fill="#000" stroke="#000" stroke-width="0.6"/>
<circle cx="331.2" cy="16.3" r="1.8" fill="#000" stroke="#000" stroke-width="0.6"/>
<circle cx="208.8" cy="91.3" r="1.9" fill="#fff" stroke="#222" stroke-width="0.8"/>
<circle cx="215.6" cy="93" r="1.9" fill="#fff" stroke="#222" stroke-width="0.8"/>
<circle cx="222.4" cy="98" r="1.9" fill="#fff" stroke="#222" stroke-width="0.8"/>
<circle cx="229.2" cy="88.8" r="1.9" fill="#fff" stroke="#222" stroke-width="0.8"/>
<circle cx="283.6" cy="95.8" r="1.9" fill="#fff" stroke="#222" stroke-width="0.8"/>
<circle cx="331.2" cy="95.8" r="1.9" fill="#fff" stroke="#222" stroke-width="0.8"/>
<text x="353.5" y="9.2" font-size="11.5" font-weight="bold" text-anchor="start" fill="#000" stroke="#000" stroke-width="0.25">C</text>
<rect x="381.6" y="4.8" width="133.39999999999998" height="93.4" fill="none" stroke="#8a8a8a" stroke-width="1.0"/>
<text x="377.4" y="7.268" font-size="6.3" font-weight="normal" text-anchor="end" fill="#111" stroke="#111" stroke-width="0.15">10</text>
<line x1="380.1" y1="5" x2="381.6" y2="5" stroke="#8a8a8a" stroke-width="1.0" />
<text x="377.4" y="37.268" font-size="6.3" font-weight="normal" text-anchor="end" fill="#111" stroke="#111" stroke-width="0.15">1</text>
<line x1="380.1" y1="35" x2="381.6" y2="35" stroke="#8a8a8a" stroke-width="1.0" />
<text x="377.4" y="67.268" font-size="6.3" font-weight="normal" text-anchor="end" fill="#111" stroke="#111" stroke-width="0.15">.1</text>
<line x1="380.1" y1="65" x2="381.6" y2="65" stroke="#8a8a8a" stroke-width="1.0" />
<text x="377.4" y="97.268" font-size="6.3" font-weight="normal" text-anchor="end" fill="#111" textLength="13.0" lengthAdjust="spacingAndGlyphs" stroke="#111" stroke-width="0.15">&lt;.01</text>
<line x1="380.1" y1="95" x2="381.6" y2="95" stroke="#8a8a8a" stroke-width="1.0" />
<text x="382.3" y="108.868" font-size="6.3" font-weight="normal" text-anchor="middle" fill="#111" stroke="#111" stroke-width="0.15">.1</text>
<line x1="382.3" y1="98.2" x2="382.3" y2="99.7" stroke="#8a8a8a" stroke-width="1.0" />
<text x="426.6" y="108.868" font-size="6.3" font-weight="normal" text-anchor="middle" fill="#111" stroke="#111" stroke-width="0.15">1</text>
<line x1="426.6" y1="98.2" x2="426.6" y2="99.7" stroke="#8a8a8a" stroke-width="1.0" />
<text x="471" y="108.868" font-size="6.3" font-weight="normal" text-anchor="middle" fill="#111" stroke="#111" stroke-width="0.15">10</text>
<line x1="471" y1="98.2" x2="471" y2="99.7" stroke="#8a8a8a" stroke-width="1.0" />
<text x="515.3" y="108.868" font-size="6.3" font-weight="normal" text-anchor="middle" fill="#111" textLength="9.6" lengthAdjust="spacingAndGlyphs" stroke="#111" stroke-width="0.15">100</text>
<line x1="515.3" y1="98.2" x2="515.3" y2="99.7" stroke="#8a8a8a" stroke-width="1.0" />
<text x="361.364" y="50.65" font-size="8.0" font-weight="bold" text-anchor="middle" fill="#000" textLength="70.1" lengthAdjust="spacingAndGlyphs" transform="rotate(-90 361.364 50.65)" stroke="#000" stroke-width="0.12">FVIII Activity (U/mL)</text>
<line x1="395.64" y1="98.2" x2="395.64" y2="99.2" stroke="#777" stroke-width="0.5" />
<line x1="403.45" y1="98.2" x2="403.45" y2="99.2" stroke="#777" stroke-width="0.5" />
<line x1="408.99" y1="98.2" x2="408.99" y2="99.2" stroke="#777" stroke-width="0.5" />
<line x1="413.29" y1="98.2" x2="413.29" y2="99.2" stroke="#777" stroke-width="0.5" />
<line x1="416.8" y1="98.2" x2="416.8" y2="99.2" stroke="#777" stroke-width="0.5" />
<line x1="419.76" y1="98.2" x2="419.76" y2="99.2" stroke="#777" stroke-width="0.5" />
<line x1="422.33" y1="98.2" x2="422.33" y2="99.2" stroke="#777" stroke-width="0.5" />
<line x1="424.6" y1="98.2" x2="424.6" y2="99.2" stroke="#777" stroke-width="0.5" />
<line x1="439.97" y1="98.2" x2="439.97" y2="99.2" stroke="#777" stroke-width="0.5" />
<line x1="447.78" y1="98.2" x2="447.78" y2="99.2" stroke="#777" stroke-width="0.5" />
<line x1="453.32" y1="98.2" x2="453.32" y2="99.2" stroke="#777" stroke-width="0.5" />
<line x1="457.62" y1="98.2" x2="457.62" y2="99.2" stroke="#777" stroke-width="0.5" />
<line x1="461.13" y1="98.2" x2="461.13" y2="99.2" stroke="#777" stroke-width="0.5" />
<line x1="464.09" y1="98.2" x2="464.09" y2="99.2" stroke="#777" stroke-width="0.5" />
<line x1="466.66" y1="98.2" x2="466.66" y2="99.2" stroke="#777" stroke-width="0.5" />
<line x1="468.93" y1="98.2" x2="468.93" y2="99.2" stroke="#777" stroke-width="0.5" />
<line x1="484.3" y1="98.2" x2="484.3" y2="99.2" stroke="#777" stroke-width="0.5" />
<line x1="492.11" y1="98.2" x2="492.11" y2="99.2" stroke="#777" stroke-width="0.5" />
<line x1="497.65" y1="98.2" x2="497.65" y2="99.2" stroke="#777" stroke-width="0.5" />
<line x1="501.95" y1="98.2" x2="501.95" y2="99.2" stroke="#777" stroke-width="0.5" />
<line x1="505.46" y1="98.2" x2="505.46" y2="99.2" stroke="#777" stroke-width="0.5" />
<line x1="508.42" y1="98.2" x2="508.42" y2="99.2" stroke="#777" stroke-width="0.5" />
<line x1="510.99" y1="98.2" x2="510.99" y2="99.2" stroke="#777" stroke-width="0.5" />
<line x1="513.26" y1="98.2" x2="513.26" y2="99.2" stroke="#777" stroke-width="0.5" />
<text x="448.70000000000005" y="121.9" font-size="8.0" font-weight="bold" text-anchor="middle" fill="#000" textLength="71.2" lengthAdjust="spacingAndGlyphs" stroke="#000" stroke-width="0.12">Percent engraftment</text>
<circle cx="389" cy="11.9" r="1.6" fill="#fff" stroke="#222" stroke-width="0.8"/>
<text x="399.7" y="14.5" font-size="6.5" font-weight="normal" text-anchor="start" fill="#111" textLength="63.3" lengthAdjust="spacingAndGlyphs" stroke="#111" stroke-width="0.15">35BU+ATS+3x10<tspan font-size="3.6" dy="-2.2">5</tspan><tspan dy="2.2"> cells</tspan></text>
<circle cx="470.5" cy="23" r="1.9" fill="#fff" stroke="#222" stroke-width="0.8"/>
<circle cx="468.5" cy="29.3" r="1.9" fill="#fff" stroke="#222" stroke-width="0.8"/>
<circle cx="489.3" cy="13" r="1.9" fill="#fff" stroke="#222" stroke-width="0.8"/>
<circle cx="488" cy="16.5" r="1.9" fill="#fff" stroke="#222" stroke-width="0.8"/>
<circle cx="506.7" cy="12.5" r="1.9" fill="#fff" stroke="#222" stroke-width="0.8"/>
<circle cx="508.6" cy="12.5" r="1.9" fill="#fff" stroke="#222" stroke-width="0.8"/>
<circle cx="494" cy="57.3" r="1.9" fill="#fff" stroke="#222" stroke-width="0.8"/>
<text x="-0.6" y="138.3" font-size="11.5" font-weight="bold" text-anchor="start" fill="#000" stroke="#000" stroke-width="0.25">D</text>
<rect x="26.3" y="137.3" width="133.1" height="93.29999999999998" fill="none" stroke="#8a8a8a" stroke-width="1.0"/>
<text x="22.3" y="138.868" font-size="6.3" font-weight="normal" text-anchor="end" fill="#111" stroke="#111" stroke-width="0.15">10</text>
<line x1="24.8" y1="136.6" x2="26.3" y2="136.6" stroke="#8a8a8a" stroke-width="1.0" />
<text x="22.3" y="168.868" font-size="6.3" font-weight="normal" text-anchor="end" fill="#111" stroke="#111" stroke-width="0.15">1</text>
<line x1="24.8" y1="166.6" x2="26.3" y2="166.6" stroke="#8a8a8a" stroke-width="1.0" />
<text x="22.3" y="199.268" font-size="6.3" font-weight="normal" text-anchor="end" fill="#111" stroke="#111" stroke-width="0.15">.1</text>
<line x1="24.8" y1="197.0" x2="26.3" y2="197.0" stroke="#8a8a8a" stroke-width="1.0" />
<text x="22.3" y="230.068" font-size="6.3" font-weight="normal" text-anchor="end" fill="#111" textLength="13.0" lengthAdjust="spacingAndGlyphs" stroke="#111" stroke-width="0.15">&lt;.01</text>
<line x1="24.8" y1="227.8" x2="26.3" y2="227.8" stroke="#8a8a8a" stroke-width="1.0" />
<text x="26.8" y="240.568" font-size="6.3" font-weight="normal" text-anchor="middle" fill="#111" stroke="#111" stroke-width="0.15">.1</text>
<line x1="26.8" y1="230.6" x2="26.8" y2="232.1" stroke="#8a8a8a" stroke-width="1.0" />
<text x="70.8" y="240.568" font-size="6.3" font-weight="normal" text-anchor="middle" fill="#111" stroke="#111" stroke-width="0.15">1</text>
<line x1="70.8" y1="230.6" x2="70.8" y2="232.1" stroke="#8a8a8a" stroke-width="1.0" />
<text x="115.6" y="240.568" font-size="6.3" font-weight="normal" text-anchor="middle" fill="#111" stroke="#111" stroke-width="0.15">10</text>
<line x1="115.6" y1="230.6" x2="115.6" y2="232.1" stroke="#8a8a8a" stroke-width="1.0" />
<text x="159.8" y="240.568" font-size="6.3" font-weight="normal" text-anchor="middle" fill="#111" textLength="9.6" lengthAdjust="spacingAndGlyphs" stroke="#111" stroke-width="0.15">100</text>
<line x1="159.8" y1="230.6" x2="159.8" y2="232.1" stroke="#8a8a8a" stroke-width="1.0" />
<text x="6.164" y="182.35000000000002" font-size="8.0" font-weight="bold" text-anchor="middle" fill="#000" textLength="69.1" lengthAdjust="spacingAndGlyphs" transform="rotate(-90 6.164 182.35000000000002)" stroke="#000" stroke-width="0.12">FVIII Activity (U/mL)</text>
<line x1="40.14" y1="230.6" x2="40.14" y2="231.6" stroke="#777" stroke-width="0.5" />
<line x1="47.95" y1="230.6" x2="47.95" y2="231.6" stroke="#777" stroke-width="0.5" />
<line x1="53.49" y1="230.6" x2="53.49" y2="231.6" stroke="#777" stroke-width="0.5" />
<line x1="57.79" y1="230.6" x2="57.79" y2="231.6" stroke="#777" stroke-width="0.5" />
<line x1="61.3" y1="230.6" x2="61.3" y2="231.6" stroke="#777" stroke-width="0.5" />
<line x1="64.26" y1="230.6" x2="64.26" y2="231.6" stroke="#777" stroke-width="0.5" />
<line x1="66.83" y1="230.6" x2="66.83" y2="231.6" stroke="#777" stroke-width="0.5" />
<line x1="69.1" y1="230.6" x2="69.1" y2="231.6" stroke="#777" stroke-width="0.5" />
<line x1="84.47" y1="230.6" x2="84.47" y2="231.6" stroke="#777" stroke-width="0.5" />
<line x1="92.28" y1="230.6" x2="92.28" y2="231.6" stroke="#777" stroke-width="0.5" />
<line x1="97.82" y1="230.6" x2="97.82" y2="231.6" stroke="#777" stroke-width="0.5" />
<line x1="102.12" y1="230.6" x2="102.12" y2="231.6" stroke="#777" stroke-width="0.5" />
<line x1="105.63" y1="230.6" x2="105.63" y2="231.6" stroke="#777" stroke-width="0.5" />
<line x1="108.59" y1="230.6" x2="108.59" y2="231.6" stroke="#777" stroke-width="0.5" />
<line x1="111.16" y1="230.6" x2="111.16" y2="231.6" stroke="#777" stroke-width="0.5" />
<line x1="113.43" y1="230.6" x2="113.43" y2="231.6" stroke="#777" stroke-width="0.5" />
<line x1="128.8" y1="230.6" x2="128.8" y2="231.6" stroke="#777" stroke-width="0.5" />
<line x1="136.61" y1="230.6" x2="136.61" y2="231.6" stroke="#777" stroke-width="0.5" />
<line x1="142.15" y1="230.6" x2="142.15" y2="231.6" stroke="#777" stroke-width="0.5" />
<line x1="146.45" y1="230.6" x2="146.45" y2="231.6" stroke="#777" stroke-width="0.5" />
<line x1="149.96" y1="230.6" x2="149.96" y2="231.6" stroke="#777" stroke-width="0.5" />
<line x1="152.92" y1="230.6" x2="152.92" y2="231.6" stroke="#777" stroke-width="0.5" />
<line x1="155.49" y1="230.6" x2="155.49" y2="231.6" stroke="#777" stroke-width="0.5" />
<line x1="157.76" y1="230.6" x2="157.76" y2="231.6" stroke="#777" stroke-width="0.5" />
<text x="92.64999999999999" y="254.1" font-size="8.0" font-weight="bold" text-anchor="middle" fill="#000" textLength="71.1" lengthAdjust="spacingAndGlyphs" stroke="#000" stroke-width="0.12">Percent engraftment</text>
<polygon points="34,143.1 35.71,146.07 32.29,146.07" fill="#fff" stroke="#222" stroke-width="0.8"/>
<text x="44.5" y="147.3" font-size="6.5" font-weight="normal" text-anchor="start" fill="#111" textLength="56.2" lengthAdjust="spacingAndGlyphs" stroke="#111" stroke-width="0.15">20BU+ATS+10<tspan font-size="3.6" dy="-2.2">6</tspan><tspan dy="2.2"> cells</tspan></text>
<polygon points="32.9,226.9 34.8,230.20000000000002 31.0,230.20000000000002" fill="#fff" stroke="#222" stroke-width="0.8"/>
<polygon points="106,218.1 107.9,221.4 104.1,221.4" fill="#fff" stroke="#222" stroke-width="0.8"/>
<polygon points="131.3,154.0 133.20000000000002,157.3 129.4,157.3" fill="#fff" stroke="#222" stroke-width="0.8"/>
<polygon points="138,146.2 139.9,149.5 136.1,149.5" fill="#fff" stroke="#222" stroke-width="0.8"/>
<polygon points="140,145.0 141.9,148.3 138.1,148.3" fill="#fff" stroke="#222" stroke-width="0.8"/>
<polygon points="142,148.0 143.9,151.3 140.1,151.3" fill="#fff" stroke="#222" stroke-width="0.8"/>
<polygon points="147,148.0 148.9,151.3 145.1,151.3" fill="#fff" stroke="#222" stroke-width="0.8"/>
<text x="177.3" y="138.5" font-size="11.5" font-weight="bold" text-anchor="start" fill="#000" stroke="#000" stroke-width="0.25">E</text>
<rect x="202.5" y="137.1" width="139.3" height="96.80000000000001" fill="none" stroke="#8a8a8a" stroke-width="1.0"/>
<text x="198.2" y="139.368" font-size="6.3" font-weight="normal" text-anchor="end" fill="#111" stroke="#111" stroke-width="0.15">10</text>
<line x1="201" y1="137.1" x2="202.5" y2="137.1" stroke="#8a8a8a" stroke-width="1.0" />
<text x="198.2" y="170.268" font-size="6.3" font-weight="normal" text-anchor="end" fill="#111" stroke="#111" stroke-width="0.15">1</text>
<line x1="201" y1="168" x2="202.5" y2="168" stroke="#8a8a8a" stroke-width="1.0" />
<text x="198.2" y="201.768" font-size="6.3" font-weight="normal" text-anchor="end" fill="#111" stroke="#111" stroke-width="0.15">0.1</text>
<line x1="201" y1="199.5" x2="202.5" y2="199.5" stroke="#8a8a8a" stroke-width="1.0" />
<text x="198.2" y="233.568" font-size="6.3" font-weight="normal" text-anchor="end" fill="#111" textLength="13.0" lengthAdjust="spacingAndGlyphs" stroke="#111" stroke-width="0.15">&lt; .01</text>
<line x1="201" y1="231.3" x2="202.5" y2="231.3" stroke="#8a8a8a" stroke-width="1.0" />
<text x="203.3" y="243.868" font-size="6.3" font-weight="normal" text-anchor="middle" fill="#111" stroke="#111" stroke-width="0.15">.1</text>
<line x1="203.3" y1="233.9" x2="203.3" y2="235.4" stroke="#8a8a8a" stroke-width="1.0" />
<text x="249.4" y="243.868" font-size="6.3" font-weight="normal" text-anchor="middle" fill="#111" stroke="#111" stroke-width="0.15">1</text>
<line x1="249.4" y1="233.9" x2="249.4" y2="235.4" stroke="#8a8a8a" stroke-width="1.0" />
<text x="295.8" y="243.868" font-size="6.3" font-weight="normal" text-anchor="middle" fill="#111" stroke="#111" stroke-width="0.15">10</text>
<line x1="295.8" y1="233.9" x2="295.8" y2="235.4" stroke="#8a8a8a" stroke-width="1.0" />
<text x="341.8" y="243.868" font-size="6.3" font-weight="normal" text-anchor="middle" fill="#111" textLength="9.6" lengthAdjust="spacingAndGlyphs" stroke="#111" stroke-width="0.15">100</text>
<line x1="341.8" y1="233.9" x2="341.8" y2="235.4" stroke="#8a8a8a" stroke-width="1.0" />
<text x="184.364" y="185.6" font-size="8.0" font-weight="bold" text-anchor="middle" fill="#000" textLength="70.0" lengthAdjust="spacingAndGlyphs" transform="rotate(-90 184.364 185.6)" stroke="#000" stroke-width="0.12">FVIII Activity (U/mL)</text>
<line x1="217.2" y1="233.9" x2="217.2" y2="234.9" stroke="#777" stroke-width="0.5" />
<line x1="225.33" y1="233.9" x2="225.33" y2="234.9" stroke="#777" stroke-width="0.5" />
<line x1="231.1" y1="233.9" x2="231.1" y2="234.9" stroke="#777" stroke-width="0.5" />
<line x1="235.57" y1="233.9" x2="235.57" y2="234.9" stroke="#777" stroke-width="0.5" />
<line x1="239.23" y1="233.9" x2="239.23" y2="234.9" stroke="#777" stroke-width="0.5" />
<line x1="242.32" y1="233.9" x2="242.32" y2="234.9" stroke="#777" stroke-width="0.5" />
<line x1="245.0" y1="233.9" x2="245.0" y2="234.9" stroke="#777" stroke-width="0.5" />
<line x1="247.36" y1="233.9" x2="247.36" y2="234.9" stroke="#777" stroke-width="0.5" />
<line x1="263.37" y1="233.9" x2="263.37" y2="234.9" stroke="#777" stroke-width="0.5" />
<line x1="271.5" y1="233.9" x2="271.5" y2="234.9" stroke="#777" stroke-width="0.5" />
<line x1="277.27" y1="233.9" x2="277.27" y2="234.9" stroke="#777" stroke-width="0.5" />
<line x1="281.74" y1="233.9" x2="281.74" y2="234.9" stroke="#777" stroke-width="0.5" />
<line x1="285.4" y1="233.9" x2="285.4" y2="234.9" stroke="#777" stroke-width="0.5" />
<line x1="288.49" y1="233.9" x2="288.49" y2="234.9" stroke="#777" stroke-width="0.5" />
<line x1="291.17" y1="233.9" x2="291.17" y2="234.9" stroke="#777" stroke-width="0.5" />
<line x1="293.53" y1="233.9" x2="293.53" y2="234.9" stroke="#777" stroke-width="0.5" />
<line x1="309.54" y1="233.9" x2="309.54" y2="234.9" stroke="#777" stroke-width="0.5" />
<line x1="317.67" y1="233.9" x2="317.67" y2="234.9" stroke="#777" stroke-width="0.5" />
<line x1="323.44" y1="233.9" x2="323.44" y2="234.9" stroke="#777" stroke-width="0.5" />
<line x1="327.91" y1="233.9" x2="327.91" y2="234.9" stroke="#777" stroke-width="0.5" />
<line x1="331.57" y1="233.9" x2="331.57" y2="234.9" stroke="#777" stroke-width="0.5" />
<line x1="334.66" y1="233.9" x2="334.66" y2="234.9" stroke="#777" stroke-width="0.5" />
<line x1="337.34" y1="233.9" x2="337.34" y2="234.9" stroke="#777" stroke-width="0.5" />
<line x1="339.7" y1="233.9" x2="339.7" y2="234.9" stroke="#777" stroke-width="0.5" />
<text x="272.55" y="254.1" font-size="8.0" font-weight="bold" text-anchor="middle" fill="#000" textLength="70.9" lengthAdjust="spacingAndGlyphs" stroke="#000" stroke-width="0.12">Percent engraftment</text>
<rect x="209.7" y="143.5" width="3.0" height="3.0" fill="#fff" stroke="#222" stroke-width="0.8"/>
<text x="221.8" y="147.1" font-size="6.5" font-weight="normal" text-anchor="start" fill="#111" textLength="56" lengthAdjust="spacingAndGlyphs" stroke="#111" stroke-width="0.15">35BU+ATS+10<tspan font-size="3.6" dy="-2.2">6</tspan><tspan dy="2.2"> cells</tspan></text>
<rect x="201.4" y="230.4" width="3.2" height="3.2" fill="#fff" stroke="#222" stroke-width="0.8"/>
<rect x="286.9" y="153.20000000000002" width="3.2" height="3.2" fill="#fff" stroke="#222" stroke-width="0.8"/>
<rect x="301.4" y="150.70000000000002" width="3.2" height="3.2" fill="#fff" stroke="#222" stroke-width="0.8"/>
<rect x="301.4" y="153.20000000000002" width="3.2" height="3.2" fill="#fff" stroke="#222" stroke-width="0.8"/>
<rect x="309.7" y="150.20000000000002" width="3.2" height="3.2" fill="#fff" stroke="#222" stroke-width="0.8"/>
<rect x="317.2" y="142.20000000000002" width="3.2" height="3.2" fill="#fff" stroke="#222" stroke-width="0.8"/>
<rect x="320.9" y="142.20000000000002" width="3.2" height="3.2" fill="#fff" stroke="#222" stroke-width="0.8"/>
<text x="353.6" y="138.3" font-size="11.5" font-weight="bold" text-anchor="start" fill="#000" stroke="#000" stroke-width="0.25">F</text>
<rect x="380" y="137.5" width="134.29999999999995" height="93.80000000000001" fill="none" stroke="#8a8a8a" stroke-width="1.0"/>
<text x="375.8" y="140.268" font-size="6.3" font-weight="normal" text-anchor="end" fill="#111" stroke="#111" stroke-width="0.15">10</text>
<line x1="378.5" y1="138" x2="380" y2="138" stroke="#8a8a8a" stroke-width="1.0" />
<text x="375.8" y="170.268" font-size="6.3" font-weight="normal" text-anchor="end" fill="#111" stroke="#111" stroke-width="0.15">1</text>
<line x1="378.5" y1="168" x2="380" y2="168" stroke="#8a8a8a" stroke-width="1.0" />
<text x="375.8" y="200.568" font-size="6.3" font-weight="normal" text-anchor="end" fill="#111" stroke="#111" stroke-width="0.15">.1</text>
<line x1="378.5" y1="198.3" x2="380" y2="198.3" stroke="#8a8a8a" stroke-width="1.0" />
<text x="375.8" y="231.768" font-size="6.3" font-weight="normal" text-anchor="end" fill="#111" textLength="13.0" lengthAdjust="spacingAndGlyphs" stroke="#111" stroke-width="0.15">&lt;.01</text>
<line x1="378.5" y1="229.5" x2="380" y2="229.5" stroke="#8a8a8a" stroke-width="1.0" />
<text x="379.6" y="240.868" font-size="6.3" font-weight="normal" text-anchor="middle" fill="#111" stroke="#111" stroke-width="0.15">0</text>
<line x1="379.6" y1="231.3" x2="379.6" y2="232.8" stroke="#8a8a8a" stroke-width="1.0" />
<text x="411.9" y="240.868" font-size="6.3" font-weight="normal" text-anchor="middle" fill="#111" stroke="#111" stroke-width="0.15">5</text>
<line x1="411.9" y1="231.3" x2="411.9" y2="232.8" stroke="#8a8a8a" stroke-width="1.0" />
<text x="444" y="240.868" font-size="6.3" font-weight="normal" text-anchor="middle" fill="#111" stroke="#111" stroke-width="0.15">10</text>
<line x1="444" y1="231.3" x2="444" y2="232.8" stroke="#8a8a8a" stroke-width="1.0" />
<text x="476.5" y="240.868" font-size="6.3" font-weight="normal" text-anchor="middle" fill="#111" stroke="#111" stroke-width="0.15">15</text>
<line x1="476.5" y1="231.3" x2="476.5" y2="232.8" stroke="#8a8a8a" stroke-width="1.0" />
<text x="507.3" y="240.868" font-size="6.3" font-weight="normal" text-anchor="middle" fill="#111" stroke="#111" stroke-width="0.15">20</text>
<line x1="507.3" y1="231.3" x2="507.3" y2="232.8" stroke="#8a8a8a" stroke-width="1.0" />
<text x="360.464" y="185.35" font-size="8.0" font-weight="bold" text-anchor="middle" fill="#000" textLength="69.5" lengthAdjust="spacingAndGlyphs" transform="rotate(-90 360.464 185.35)" stroke="#000" stroke-width="0.12">FVIII Activity (U/mL)</text>
<text x="446.6" y="254.1" font-size="8.0" font-weight="bold" text-anchor="middle" fill="#000" textLength="65.4" lengthAdjust="spacingAndGlyphs" stroke="#000" stroke-width="0.12">Weeks after&#160; HSCT</text>
<line x1="386.4" y1="148.5" x2="386.4" y2="202" stroke="#8a8a8a" stroke-width="0.55" />
<line x1="385.29999999999995" y1="148.5" x2="387.5" y2="148.5" stroke="#8a8a8a" stroke-width="0.55" />
<line x1="385.29999999999995" y1="202" x2="387.5" y2="202" stroke="#8a8a8a" stroke-width="0.55" />
<line x1="392.8" y1="141" x2="392.8" y2="150" stroke="#8a8a8a" stroke-width="0.55" />
<line x1="391.7" y1="141" x2="393.90000000000003" y2="141" stroke="#8a8a8a" stroke-width="0.55" />
<line x1="391.7" y1="150" x2="393.90000000000003" y2="150" stroke="#8a8a8a" stroke-width="0.55" />
<line x1="399.2" y1="143" x2="399.2" y2="157" stroke="#8a8a8a" stroke-width="0.55" />
<line x1="398.09999999999997" y1="143" x2="400.3" y2="143" stroke="#8a8a8a" stroke-width="0.55" />
<line x1="398.09999999999997" y1="157" x2="400.3" y2="157" stroke="#8a8a8a" stroke-width="0.55" />
<line x1="405.6" y1="152" x2="405.6" y2="190" stroke="#8a8a8a" stroke-width="0.55" />
<line x1="404.5" y1="152" x2="406.70000000000005" y2="152" stroke="#8a8a8a" stroke-width="0.55" />
<line x1="404.5" y1="190" x2="406.70000000000005" y2="190" stroke="#8a8a8a" stroke-width="0.55" />
<line x1="418.4" y1="150.3" x2="418.4" y2="166" stroke="#8a8a8a" stroke-width="0.55" />
<line x1="417.29999999999995" y1="150.3" x2="419.5" y2="150.3" stroke="#8a8a8a" stroke-width="0.55" />
<line x1="417.29999999999995" y1="166" x2="419.5" y2="166" stroke="#8a8a8a" stroke-width="0.55" />
<line x1="431.2" y1="146.4" x2="431.2" y2="167.2" stroke="#8a8a8a" stroke-width="0.55" />
<line x1="430.09999999999997" y1="146.4" x2="432.3" y2="146.4" stroke="#8a8a8a" stroke-width="0.55" />
<line x1="430.09999999999997" y1="167.2" x2="432.3" y2="167.2" stroke="#8a8a8a" stroke-width="0.55" />
<line x1="469.6" y1="147" x2="469.6" y2="165.6" stroke="#8a8a8a" stroke-width="0.55" />
<line x1="468.5" y1="147" x2="470.70000000000005" y2="147" stroke="#8a8a8a" stroke-width="0.55" />
<line x1="468.5" y1="165.6" x2="470.70000000000005" y2="165.6" stroke="#8a8a8a" stroke-width="0.55" />
<line x1="508.0" y1="144" x2="508.0" y2="164.2" stroke="#8a8a8a" stroke-width="0.55" />
<line x1="506.9" y1="144" x2="509.1" y2="144" stroke="#8a8a8a" stroke-width="0.55" />
<line x1="506.9" y1="164.2" x2="509.1" y2="164.2" stroke="#8a8a8a" stroke-width="0.55" />
<polyline points="380.0,230.8 386.4,159 392.8,230.8 399.2,230.8 405.6,230.8 495.2,230.8" fill="none" stroke="#555" stroke-width="0.8"/>
<polyline points="380.0,230.8 386.4,156 392.8,148 399.2,150.6 405.6,163.4 418.4,157.6 431.2,157.3 469.6,158.6 508.0,156.9" fill="none" stroke="#555" stroke-width="0.8"/>
<polyline points="380.0,230.8 386.4,144.8 392.8,145.3 399.2,148.6 405.6,159.5 418.4,155 431.2,152.6 469.6,151 508.0,147.2" fill="none" stroke="#555" stroke-width="0.8"/>
<circle cx="386.4" cy="156" r="1.8" fill="#fff" stroke="#222" stroke-width="0.8"/>
<circle cx="392.8" cy="148" r="1.8" fill="#fff" stroke="#222" stroke-width="0.8"/>
<circle cx="399.2" cy="150.6" r="1.8" fill="#fff" stroke="#222" stroke-width="0.8"/>
<circle cx="405.6" cy="163.4" r="1.8" fill="#fff" stroke="#222" stroke-width="0.8"/>
<circle cx="418.4" cy="157.6" r="1.8" fill="#fff" stroke="#222" stroke-width="0.8"/>
<circle cx="431.2" cy="157.3" r="1.8" fill="#fff" stroke="#222" stroke-width="0.8"/>
<circle cx="469.6" cy="158.6" r="1.8" fill="#fff" stroke="#222" stroke-width="0.8"/>
<circle cx="508.0" cy="156.9" r="1.8" fill="#fff" stroke="#222" stroke-width="0.8"/>
<polygon points="386.4,157.2 388.10999999999996,160.17 384.69,160.17" fill="#000" stroke="#000" stroke-width="0.6"/>
<polygon points="392.8,229.0 394.51,231.97 391.09000000000003,231.97" fill="#000" stroke="#000" stroke-width="0.6"/>
<polygon points="399.2,229.0 400.90999999999997,231.97 397.49,231.97" fill="#000" stroke="#000" stroke-width="0.6"/>
<polygon points="405.6,229.0 407.31,231.97 403.89000000000004,231.97" fill="#000" stroke="#000" stroke-width="0.6"/>
<polygon points="495.2,229.0 496.90999999999997,231.97 493.49,231.97" fill="#000" stroke="#000" stroke-width="0.6"/>
<circle cx="380.0" cy="230.8" r="1.9" fill="#000" stroke="#000" stroke-width="0.6"/>
<rect x="378.3" y="229.10000000000002" width="3.4" height="3.4" fill="#000" stroke="#000" stroke-width="0.6"/>
<rect x="384.7" y="143.10000000000002" width="3.4" height="3.4" fill="#000" stroke="#000" stroke-width="0.6"/>
<rect x="391.1" y="143.60000000000002" width="3.4" height="3.4" fill="#000" stroke="#000" stroke-width="0.6"/>
<rect x="397.5" y="146.9" width="3.4" height="3.4" fill="#000" stroke="#000" stroke-width="0.6"/>
<rect x="403.90000000000003" y="157.8" width="3.4" height="3.4" fill="#000" stroke="#000" stroke-width="0.6"/>
<rect x="416.7" y="153.3" width="3.4" height="3.4" fill="#000" stroke="#000" stroke-width="0.6"/>
<rect x="429.5" y="150.9" width="3.4" height="3.4" fill="#000" stroke="#000" stroke-width="0.6"/>
<rect x="467.90000000000003" y="149.3" width="3.4" height="3.4" fill="#000" stroke="#000" stroke-width="0.6"/>
<rect x="506.3" y="145.5" width="3.4" height="3.4" fill="#000" stroke="#000" stroke-width="0.6"/>
<line x1="432.2" y1="199.8" x2="446.3" y2="199.8" stroke="#777" stroke-width="0.8" />
<polygon points="439.3,198.0 441.01,200.97 437.59000000000003,200.97" fill="#000" stroke="#000" stroke-width="0.6"/>
<text x="449.1" y="202.0" font-size="6.5" font-weight="normal" text-anchor="start" fill="#111" textLength="44.4" lengthAdjust="spacingAndGlyphs" stroke="#111" stroke-width="0.15">3Gy+3x10<tspan font-size="3.6" dy="-2.2">5</tspan><tspan dy="2.2"> cells</tspan></text>
<line x1="432.2" y1="211.5" x2="446.3" y2="211.5" stroke="#777" stroke-width="0.8" />
<circle cx="439.3" cy="211.5" r="1.6" fill="#fff" stroke="#222" stroke-width="0.8"/>
<text x="449.1" y="213.7" font-size="6.5" font-weight="normal" text-anchor="start" fill="#111" textLength="59.4" lengthAdjust="spacingAndGlyphs" stroke="#111" stroke-width="0.15">3Gy+ATS+3x10<tspan font-size="3.6" dy="-2.2">5</tspan><tspan dy="2.2"> cells</tspan></text>
<line x1="432.2" y1="223.7" x2="446.3" y2="223.7" stroke="#777" stroke-width="0.8" />
<rect x="437.8" y="222.2" width="3.0" height="3.0" fill="#000" stroke="#000" stroke-width="0.6"/>
<text x="449.1" y="225.89999999999998" font-size="6.5" font-weight="normal" text-anchor="start" fill="#111" textLength="52.7" lengthAdjust="spacingAndGlyphs" stroke="#111" stroke-width="0.15">3Gy+ATS+10<tspan font-size="3.6" dy="-2.2">6</tspan><tspan dy="2.2"> cells</tspan></text>
</svg>
</body></html>
